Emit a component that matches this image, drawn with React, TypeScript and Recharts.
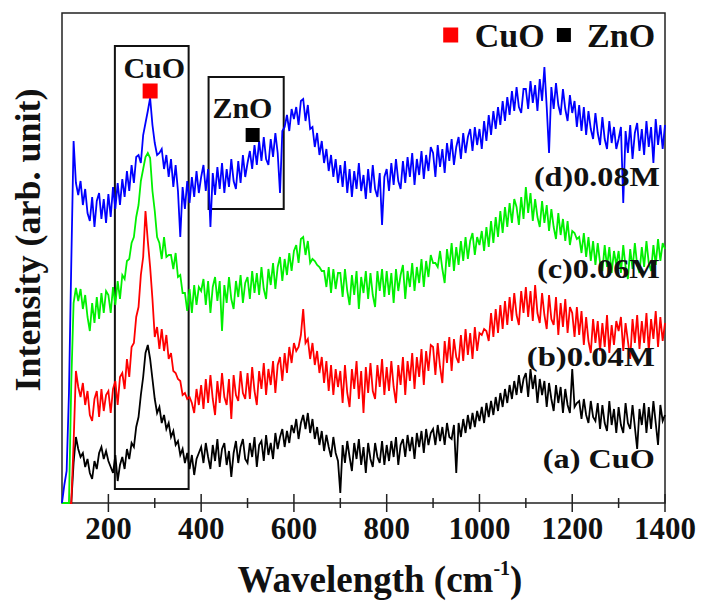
/**
 * Raman spectra of CuO and CuO/ZnO films, stacked with offsets.
 */
import { LineChart, Line, XAxis, YAxis, ReferenceArea, ReferenceDot } from 'recharts';

// sampling grid (cm-1), 5 cm-1 steps
const wavenumbers = [
  100, 105, 110, 115, 120, 125, 130, 135, 140, 145, 150, 155, 160, 165, 170, 175, 180, 185, 190, 195,
  200, 205, 210, 215, 220, 225, 230, 235, 240, 245, 250, 255, 260, 265, 270, 275, 280, 285, 290, 295,
  300, 305, 310, 315, 320, 325, 330, 335, 340, 345, 350, 355, 360, 365, 370, 375, 380, 385, 390, 395,
  400, 405, 410, 415, 420, 425, 430, 435, 440, 445, 450, 455, 460, 465, 470, 475, 480, 485, 490, 495,
  500, 505, 510, 515, 520, 525, 530, 535, 540, 545, 550, 555, 560, 565, 570, 575, 580, 585, 590, 595,
  600, 605, 610, 615, 620, 625, 630, 635, 640, 645, 650, 655, 660, 665, 670, 675, 680, 685, 690, 695,
  700, 705, 710, 715, 720, 725, 730, 735, 740, 745, 750, 755, 760, 765, 770, 775, 780, 785, 790, 795,
  800, 805, 810, 815, 820, 825, 830, 835, 840, 845, 850, 855, 860, 865, 870, 875, 880, 885, 890, 895,
  900, 905, 910, 915, 920, 925, 930, 935, 940, 945, 950, 955, 960, 965, 970, 975, 980, 985, 990, 995,
  1000, 1005, 1010, 1015, 1020, 1025, 1030, 1035, 1040, 1045, 1050, 1055, 1060, 1065, 1070, 1075, 1080, 1085, 1090, 1095,
  1100, 1105, 1110, 1115, 1120, 1125, 1130, 1135, 1140, 1145, 1150, 1155, 1160, 1165, 1170, 1175, 1180, 1185, 1190, 1195,
  1200, 1205, 1210, 1215, 1220, 1225, 1230, 1235, 1240, 1245, 1250, 1255, 1260, 1265, 1270, 1275, 1280, 1285, 1290, 1295,
  1300, 1305, 1310, 1315, 1320, 1325, 1330, 1335, 1340, 1345, 1350, 1355, 1360, 1365, 1370, 1375, 1380, 1385, 1390, 1395,
  1400,
];

// (a) CuO
const spectrumA = [
  0, 0, 0, 0, 0, 40, 66, 54, 46, 50, 36, 44, 30, 24, 42, 34, 50, 56, 44, 52,
  42, 36, 30, 48, 22, 38, 46, 34, 54, 44, 60, 56, 76, 86, 108, 126, 150, 158, 144, 124,
  104, 90, 96, 80, 88, 74, 80, 66, 72, 58, 62, 48, 54, 40, 50, 34, 48, 28, 44, 50,
  56, 40, 60, 46, 34, 58, 42, 64, 36, 54, 60, 38, 52, 26, 50, 62, 40, 56, 64, 44,
  40, 60, 46, 66, 36, 58, 62, 42, 68, 48, 60, 44, 70, 54, 66, 74, 56, 72, 60, 78,
  70, 84, 64, 80, 88, 74, 90, 70, 84, 64, 76, 58, 72, 52, 68, 56, 46, 66, 50, 42,
  10, 58, 40, 62, 46, 32, 60, 44, 64, 38, 56, 30, 60, 44, 36, 60, 46, 40, 62, 38,
  58, 42, 62, 46, 66, 38, 58, 64, 46, 68, 52, 66, 44, 70, 56, 72, 50, 74, 58, 70,
  74, 58, 78, 62, 76, 58, 80, 66, 64, 78, 30, 80, 66, 84, 70, 88, 74, 90, 76, 92,
  82, 96, 80, 100, 86, 102, 88, 106, 92, 110, 96, 114, 100, 118, 104, 122, 108, 128, 110, 124,
  130, 106, 134, 114, 128, 100, 124, 108, 122, 96, 120, 104, 92, 118, 100, 116, 90, 114, 98, 90,
  134, 96, 100, 102, 84, 104, 88, 80, 102, 86, 82, 100, 74, 98, 80, 72, 102, 78, 94, 70,
  96, 78, 70, 100, 80, 74, 98, 76, 54, 94, 78, 100, 70, 96, 74, 102, 80, 58, 98, 82,
  88,
];

// (b) 0.04M
const spectrumB = [
  0, 0, 0, 0, 0, 60, 132, 116, 106, 120, 98, 112, 88, 82, 104, 112, 86, 114, 92, 108,
  112, 90, 114, 122, 98, 126, 130, 114, 144, 126, 156, 160, 186, 196, 228, 246, 292, 262, 236, 204,
  166, 176, 154, 174, 152, 168, 144, 150, 132, 130, 124, 122, 108, 110, 104, 106, 100, 90, 114, 98,
  118, 94, 124, 100, 128, 104, 88, 122, 100, 130, 106, 98, 124, 84, 128, 108, 102, 132, 110, 104,
  130, 104, 136, 112, 98, 132, 114, 140, 108, 134, 118, 142, 110, 138, 146, 122, 150, 130, 156, 140,
  160, 152, 156, 168, 194, 160, 164, 144, 160, 138, 152, 130, 146, 120, 142, 112, 138, 108, 134, 116,
  132, 100, 138, 110, 96, 134, 114, 142, 104, 132, 90, 136, 110, 140, 112, 104, 138, 116, 144, 108,
  136, 112, 142, 116, 100, 138, 118, 146, 108, 142, 122, 150, 114, 146, 126, 154, 118, 152, 132, 158,
  156, 128, 160, 136, 120, 162, 140, 166, 132, 164, 146, 140, 168, 142, 174, 148, 170, 144, 176, 152,
  170, 168, 174, 172, 162, 190, 166, 194, 170, 198, 174, 202, 178, 206, 182, 210, 188, 178, 212, 190,
  216, 186, 212, 182, 218, 190, 180, 210, 188, 174, 208, 184, 178, 206, 168, 200, 176, 204, 170, 196,
  190, 166, 196, 168, 192, 158, 186, 162, 150, 184, 160, 182, 152, 180, 156, 188, 150, 178, 158, 182,
  172, 186, 152, 180, 162, 144, 184, 160, 188, 154, 182, 160, 190, 152, 184, 164, 192, 156, 186, 162,
  180,
];

// (c) 0.06M
const spectrumC = [
  0, 0, 0, 0, 120, 200, 215, 202, 214, 194, 208, 186, 172, 200, 180, 206, 184, 210, 190, 212,
  208, 190, 216, 198, 222, 204, 228, 224, 242, 244, 260, 266, 286, 298, 322, 334, 346, 350, 345, 312,
  292, 266, 260, 244, 266, 246, 248, 248, 234, 250, 226, 228, 210, 210, 192, 214, 190, 218, 198, 216,
  212, 224, 198, 222, 190, 216, 226, 202, 222, 172, 218, 200, 226, 204, 194, 222, 206, 228, 200, 220,
  226, 204, 232, 210, 230, 208, 236, 214, 204, 234, 218, 240, 214, 236, 246, 222, 244, 228, 250, 232,
  252, 258, 240, 264, 266, 248, 262, 240, 244, 242, 238, 236, 232, 232, 216, 236, 210, 234, 214, 230,
  230, 206, 234, 212, 198, 228, 208, 232, 194, 226, 210, 232, 204, 230, 208, 196, 232, 212, 234, 206,
  232, 208, 230, 200, 234, 212, 228, 238, 204, 232, 216, 240, 212, 236, 220, 244, 216, 242, 226, 248,
  240, 240, 236, 252, 234, 220, 254, 236, 260, 232, 256, 238, 262, 242, 266, 244, 262, 270, 248, 266,
  258, 272, 252, 276, 256, 282, 260, 286, 266, 292, 270, 296, 276, 300, 280, 304, 296, 278, 306, 284,
  316, 290, 310, 282, 304, 286, 276, 302, 280, 298, 272, 294, 276, 264, 290, 268, 284, 262, 282, 258,
  272, 270, 264, 266, 250, 270, 246, 266, 242, 262, 238, 260, 240, 232, 258, 236, 256, 230, 252, 238,
  252, 230, 258, 236, 224, 254, 234, 260, 238, 230, 256, 236, 262, 240, 232, 258, 238, 264, 242, 260,
  254,
];

// (d) 0.08M
const spectrumD = [
  0, 18, 32, 110, 240, 362, 320, 308, 322, 298, 314, 290, 282, 306, 276, 302, 310, 284, 304, 280,
  309, 286, 316, 294, 320, 298, 324, 306, 332, 312, 338, 320, 346, 348, 340, 368, 380, 392, 405, 378,
  360, 348, 350, 354, 334, 348, 326, 344, 316, 338, 312, 266, 316, 294, 322, 300, 326, 306, 332, 310,
  326, 338, 312, 334, 276, 330, 308, 336, 314, 340, 310, 334, 316, 344, 322, 314, 342, 320, 348, 326,
  340, 352, 334, 358, 338, 362, 342, 366, 344, 338, 364, 346, 370, 350, 310, 372, 376, 388, 372, 394,
  384, 396, 378, 402, 404, 382, 398, 374, 376, 356, 370, 348, 362, 340, 354, 332, 348, 326, 344, 320,
  338, 316, 342, 310, 334, 306, 332, 314, 340, 312, 328, 304, 334, 310, 338, 314, 306, 330, 278, 326,
  334, 312, 340, 318, 344, 322, 314, 342, 320, 346, 326, 350, 318, 344, 328, 352, 324, 348, 332, 356,
  350, 326, 358, 336, 354, 330, 360, 342, 364, 338, 356, 366, 344, 370, 350, 366, 374, 352, 376, 358,
  374, 354, 382, 362, 388, 368, 392, 374, 396, 378, 402, 382, 406, 388, 412, 392, 416, 396, 390, 414,
  414, 394, 422, 400, 418, 392, 424, 402, 436, 396, 350, 416, 394, 420, 398, 388, 414, 394, 382, 408,
  390, 402, 376, 398, 372, 396, 368, 392, 374, 364, 390, 370, 358, 386, 364, 354, 382, 360, 376, 354,
  364, 376, 300, 372, 350, 378, 344, 370, 380, 352, 374, 348, 382, 356, 376, 340, 384, 358, 378, 354,
  378,
];

const xTicks = [200, 300, 400, 500, 600, 700, 800, 900, 1000, 1100, 1200, 1300, 1400];

const curveLabels = ['(a) CuO', '(b)0.04M', '(c)0.06M', '(d)0.08M'];

const data = wavenumbers.map((w, i) => ({
  w,
  a: spectrumA[i],
  b: spectrumB[i],
  c: spectrumC[i],
  d: spectrumD[i],
}));

const FONT = '"Liberation Serif", "Times New Roman", serif';

const XTick = ({ x, y, payload }: any) => {
  const major = payload.value % 200 === 0;
  const len = major ? 9 : 5;
  return (
    <g>
      <line x1={x} x2={x} y1={y - len} y2={y + len} stroke="#222" strokeWidth={1.5} />
      {major && (
        <text x={x} y={y + 36} textAnchor="middle" fontFamily={FONT} fontWeight="bold" fontSize={31} fill="#111">
          {payload.value}
        </text>
      )}
    </g>
  );
};

const XTitle = () => (
  <text x={380} y={592} textAnchor="middle" fontFamily={FONT} fontWeight="bold" fontSize={37} fill="#111">
    Wavelength (cm
    <tspan fontSize={20} dy={-17}>-1</tspan>
    <tspan dy={17}>)</tspan>
  </text>
);

const YTitle = () => (
  <text
    x={0}
    y={0}
    transform="translate(40, 240) rotate(-90)"
    textAnchor="middle"
    fontFamily={FONT}
    fontWeight="bold"
    fontSize={36}
    fill="#111"
  >
    Intensity (arb. unit)
  </text>
);

// text placed at a data coordinate
const textShape = (label: string, size: number, anchor: string, fitWidth?: number) => (props: any) => (
  <text
    x={props.cx}
    y={props.cy}
    textAnchor={anchor}
    fontFamily={FONT}
    fontWeight="bold"
    fontSize={size}
    fill="#111"
    {...(fitWidth ? { textLength: fitWidth, lengthAdjust: 'spacingAndGlyphs' } : {})}
  >
    {label}
  </text>
);

const squareShape = (color: string, size: number) => (props: any) => (
  <rect x={props.cx - size / 2} y={props.cy - size / 2} width={size} height={size} fill={color} />
);

export default function App() {
  return (
    <div style={{ position: 'absolute', left: 0, top: 0, background: '#fff' }}>
      <LineChart width={701} height={603} data={data} margin={{ top: 13, right: 36, bottom: 0, left: 0 }}>
        <XAxis
          dataKey="w"
          type="number"
          domain={[100, 1400]}
          ticks={xTicks}
          interval={0}
          height={100}
          axisLine={false}
          tickLine={false}
          tickSize={0}
          tickMargin={0}
          tick={<XTick />}
          label={<XTitle />}
        />
        <YAxis
          type="number"
          domain={[0, 490]}
          width={62}
          tick={false}
          tickLine={false}
          axisLine={false}
          label={<YTitle />}
        />

        <ReferenceArea x1={100} x2={1400} y1={0} y2={490} fill="none" stroke="#222" strokeWidth={1.5} />
        <ReferenceArea x1={214} x2={373} y1={14} y2={457} fill="none" stroke="#111" strokeWidth={2} />
        <ReferenceArea x1={416} x2={578} y1={294} y2={426} fill="none" stroke="#111" strokeWidth={2} />

        <Line dataKey="a" stroke="#000000" strokeWidth={1.8} dot={false} isAnimationActive={false} />
        <Line dataKey="b" stroke="#ff0000" strokeWidth={1.8} dot={false} isAnimationActive={false} />
        <Line dataKey="c" stroke="#00f000" strokeWidth={1.8} dot={false} isAnimationActive={false} />
        <Line dataKey="d" stroke="#0000ff" strokeWidth={1.8} dot={false} isAnimationActive={false} />

        {/* peak markers */}
        <ReferenceDot x={290} y={412} shape={squareShape('#ff0000', 15)} />
        <ReferenceDot x={299} y={425} shape={textShape('CuO', 30, 'middle')} />
        <ReferenceDot x={511} y={368} shape={squareShape('#000000', 14)} />
        <ReferenceDot x={489} y={385} shape={textShape('ZnO', 30, 'middle')} />

        {/* legend */}
        <ReferenceDot x={938} y={468} shape={squareShape('#ff0000', 15)} />
        <ReferenceDot x={990} y={456} shape={textShape('CuO', 34, 'start')} />
        <ReferenceDot x={1182} y={468} shape={squareShape('#000000', 14)} />
        <ReferenceDot x={1232} y={456} shape={textShape('ZnO', 34, 'start')} />

        {/* curve labels */}
        <ReferenceDot x={1378} y={35} shape={textShape(curveLabels[0], 27, 'end', 112)} />
        <ReferenceDot x={1378} y={137} shape={textShape(curveLabels[1], 27, 'end', 128)} />
        <ReferenceDot x={1389} y={225} shape={textShape(curveLabels[2], 27, 'end', 123)} />
        <ReferenceDot x={1389} y={317} shape={textShape(curveLabels[3], 27, 'end', 126)} />
      </LineChart>
    </div>
  );
}
